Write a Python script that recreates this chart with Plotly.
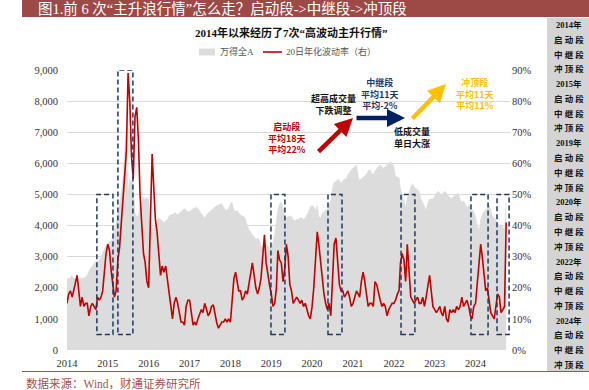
import plotly.graph_objects as go

W, H = 589, 390

# ---------------- data ----------------
years = list(range(2014, 2025))
tick_labels = [str(y) for y in years]

# 万得全A index, semi-monthly readings (1st / 16th of each month)
idx_2014 = [2300, 2280, 2350, 2400, 2320, 2300, 2280, 2300, 2320, 2300, 2320, 2350,
            2400, 2550, 2650, 2700, 2800, 2850, 2850, 2900, 3000, 3150, 3250, 3350]
idx_2015 = [3450, 3500, 3500, 3650, 3850, 4100, 4400, 4800, 5000, 5600, 6600, 7200,
            5100, 5500, 5400, 5400, 4400, 4300, 4300, 4700, 4800, 4900, 4850, 4900]
idx_2016 = [4850, 4050, 3900, 3900, 4150, 4200, 4250, 4200, 4150, 4100, 4150, 4200,
            4300, 4350, 4350, 4400, 4400, 4350, 4400, 4450, 4500, 4550, 4500, 4450]
idx_2017 = [4450, 4500, 4550, 4550, 4600, 4550, 4450, 4350, 4300, 4250, 4350, 4400,
            4450, 4500, 4550, 4600, 4650, 4650, 4700, 4700, 4600, 4500, 4500, 4550]
idx_2018 = [4700, 4750, 4500, 4450, 4500, 4400, 4350, 4300, 4300, 4200, 4000, 3850,
            3800, 3700, 3650, 3550, 3600, 3550, 3300, 3350, 3450, 3400, 3350, 3300]
idx_2019 = [3300, 3450, 3750, 4200, 4500, 4700, 4750, 4600, 4200, 4250, 4300, 4300,
            4300, 4200, 4150, 4200, 4200, 4250, 4250, 4200, 4250, 4350, 4450, 4600]
idx_2020 = [4650, 4600, 4500, 4650, 4300, 4250, 4400, 4450, 4500, 4550, 4650, 4800,
            5200, 5400, 5400, 5500, 5450, 5350, 5450, 5500, 5500, 5650, 5700, 5800]
idx_2021 = [5850, 5900, 5950, 5600, 5450, 5500, 5550, 5600, 5650, 5750, 5800, 5700,
            5650, 5750, 5850, 5900, 5950, 5900, 5850, 5900, 5950, 6000, 6050, 6000]
idx_2022 = [5900, 5600, 5550, 5550, 5200, 5000, 4750, 4600, 4900, 5000, 5250, 5350,
            5250, 5200, 5150, 5100, 4850, 4750, 4600, 4500, 4750, 4850, 4850, 4850]
idx_2023 = [4950, 5050, 5100, 5050, 5000, 5050, 5100, 5050, 4950, 4900, 4850, 4950,
            4950, 5000, 5050, 4850, 4750, 4800, 4700, 4600, 4650, 4600, 4500, 4450]
idx_2024 = [4300, 4000, 3850, 4200, 4350, 4450, 4500, 4600, 4650, 4500, 4300, 4250,
            4150, 4100, 4000, 4050, 3950, 3900, 4750]

# 20日年化波动率 (%), semi-monthly readings
vol_2014 = [15, 18, 19, 17, 19, 21, 24, 19, 14, 17, 14, 15, 15, 11, 14, 15, 14, 13, 17, 16, 17, 19, 25, 31]
vol_2015 = [34, 32, 25, 20, 17, 19, 29, 33, 40, 50, 55, 64, 89, 80, 62, 55, 75, 78, 68, 50, 40, 31, 28, 22]
vol_2016 = [20, 45, 63, 52, 42, 38, 29, 24, 27, 25, 27, 23, 18, 14, 10, 15, 17, 15, 12, 9, 9, 8, 14, 16]
vol_2017 = [16, 12, 8, 9, 8, 10, 12, 13, 12, 15, 13, 11, 12, 14, 14.5, 11, 8.7, 7, 8, 9, 9, 10, 9, 10]
vol_2018 = [9, 15, 23, 25, 22, 19, 19, 16, 17, 19, 18, 21, 24, 28, 24, 20, 18, 20, 23, 30, 37, 28, 24, 21]
vol_2019 = [18, 14, 15, 20, 32, 29, 28, 22, 26, 34, 30, 21, 19, 15, 16, 17, 16, 15, 16, 14, 15, 13, 11, 10]
vol_2020 = [14, 20, 28, 38, 34, 28, 23, 18, 15, 13, 15, 11, 22, 34, 36, 28, 21, 19, 19, 17, 18, 19, 17, 14]
vol_2021 = [15, 17, 19, 18, 17, 22, 25, 22, 18, 14, 15, 15, 14, 22, 21, 18, 16, 14, 15, 14, 11, 13, 14, 15]
vol_2022 = [15, 16, 18, 19, 28, 31, 29, 22, 34, 25, 17, 16, 15, 16, 17, 15, 15, 17, 14, 17, 20, 24, 19, 14]
vol_2023 = [13, 12, 13, 14, 12, 11, 14, 10, 9, 13, 12, 13, 12, 14, 13, 14, 17, 14, 15, 16, 14, 11, 10, 14]
vol_2024 = [15, 22, 30, 34, 30, 24, 19, 20, 15, 12, 11, 10, 14, 18, 17, 12, 13, 14, 41]

# highlighted rally windows (dashed boxes)
box_start = ["2014-09-25", "2015-04-01", "2018-12-29", "2020-05-22", "2022-03-06", "2023-11-21", "2024-07-11"]
box_end = ["2015-02-16", "2015-08-13", "2019-05-03", "2020-09-24", "2022-07-08", "2024-04-22", "2024-10-27"]
box_top = [5000, 9000, 5000, 5000, 5000, 5000, 5000]
box_bottom = 500

panel_years = ["2014年", "2015年", "2019年", "2020年", "2022年", "2024年"]
panel_stages = ["启 动 段", "中 继 段", "冲 顶 段"]

idx_by_year = [idx_2014, idx_2015, idx_2016, idx_2017, idx_2018, idx_2019,
               idx_2020, idx_2021, idx_2022, idx_2023, idx_2024]
vol_by_year = [vol_2014, vol_2015, vol_2016, vol_2017, vol_2018, vol_2019,
               vol_2020, vol_2021, vol_2022, vol_2023, vol_2024]


def semimonth_dates(year, n):
    return [f"{year}-{k // 2 + 1:02d}-{(1 if k % 2 == 0 else 16):02d}" for k in range(n)]


idx_x, idx_y, vol_x, vol_y = [], [], [], []
for y, iv, vv in zip(years, idx_by_year, vol_by_year):
    idx_x += semimonth_dates(y, len(iv))
    idx_y += iv
    vol_x += semimonth_dates(y, len(vv))
    vol_y += vv

# ---------------- figure ----------------
SERIF = "Times New Roman, Liberation Serif, Noto Sans CJK SC"
CJK = "Noto Sans CJK SC, Microsoft YaHei, sans-serif"
NAME_IDX = "万得全A"
NAME_VOL = "20日年化波动率（右）"


def X(px):
    return px / W


def Y(py):
    return 1 - py / H


fig = go.Figure()
fig.add_trace(go.Scatter(
    x=idx_x, y=idx_y, name=NAME_IDX, mode="lines",
    fill="tozeroy", fillcolor="#dcdcdc", line=dict(color="#dcdcdc", width=0.5),
    hoverinfo="skip", showlegend=False))
fig.add_trace(go.Scatter(
    x=vol_x, y=vol_y, name=NAME_VOL, mode="lines", yaxis="y2",
    line=dict(color="#c00000", width=1.6), showlegend=False))

shapes = []
for s, e, t in zip(box_start, box_end, box_top):
    shapes.append(dict(type="rect", xref="x", yref="y", x0=s, x1=e, y0=box_bottom, y1=t,
                       line=dict(color="#1f3864", width=1.5, dash="5px,3px"),
                       fillcolor="rgba(0,0,0,0)", layer="above"))
# banner, side panel, bottom rule
shapes.append(dict(type="rect", xref="paper", yref="paper", x0=X(22), x1=1, y0=Y(17), y1=1,
                   line=dict(width=0), fillcolor="#9d4a47", layer="below"))
shapes.append(dict(type="rect", xref="paper", yref="paper", x0=X(547), x1=1, y0=Y(371), y1=Y(18),
                   line=dict(width=0), fillcolor="#d4d4d4", layer="below"))
shapes.append(dict(type="line", xref="paper", yref="paper", x0=X(22), x1=1, y0=Y(371.5), y1=Y(371.5),
                   line=dict(color="#a5504d", width=1)))
# legend keys
shapes.append(dict(type="rect", xref="paper", yref="paper", x0=X(199), x1=X(215), y0=Y(55.5), y1=Y(48.5),
                   line=dict(width=0), fillcolor="#dcdcdc"))
shapes.append(dict(type="line", xref="paper", yref="paper", x0=X(263), x1=X(282), y0=Y(52), y1=Y(52),
                   line=dict(color="#c00000", width=1.6)))

ann = []
ann.append(dict(text="图1.前 6 次“主升浪行情”怎么走？启动段->中继段->冲顶段", xref="paper", yref="paper",
                x=X(36), y=Y(9), xanchor="left", yanchor="middle", showarrow=False,
                font=dict(family=SERIF, size=14.5, color="white")))
ann.append(dict(text="<b>2014年以来经历了7次“高波动主升行情”</b>", xref="paper", yref="paper",
                x=X(291), y=Y(32), xanchor="center", yanchor="middle", showarrow=False,
                font=dict(family=SERIF, size=11, color="#111111")))
ann.append(dict(text="数据来源：Wind，财通证券研究所", xref="paper", yref="paper",
                x=X(24), y=Y(383.5), xanchor="left", yanchor="middle", showarrow=False,
                font=dict(family=SERIF, size=11.5, color="#a5504d")))
ann.append(dict(text=NAME_IDX, xref="paper", yref="paper", x=X(218), y=Y(52),
                xanchor="left", yanchor="middle", showarrow=False,
                font=dict(family=SERIF, size=9, color="#555555")))
ann.append(dict(text=NAME_VOL, xref="paper", yref="paper", x=X(284), y=Y(52),
                xanchor="left", yanchor="middle", showarrow=False,
                font=dict(family=SERIF, size=9, color="#555555")))

panel_items = []
for yl in panel_years:
    panel_items.append(yl)
    panel_items += panel_stages
n_items = len(panel_items)
row_gap = (365 - 25) / (n_items - 1)
for i, t in enumerate(panel_items):
    ann.append(dict(text=f"<b>{t}</b>", xref="paper", yref="paper", x=X(569), y=Y(25 + i * row_gap),
                    xanchor="center", yanchor="middle", showarrow=False,
                    font=dict(family=SERIF, size=8.5, color="#111111")))


def text_block(lines, cx, cy, color):
    ann.append(dict(text="<b>" + "<br>".join(lines) + "</b>", xref="paper", yref="paper",
                    x=X(cx), y=Y(cy), xanchor="center", yanchor="middle", showarrow=False,
                    align="center", font=dict(family=CJK, size=9, color=color)))


text_block(["启动段", "平均18天", "平均22%"], 287, 138, "#c00000")
text_block(["超高成交量", "下跌调整"], 333, 104.5, "#111111")
text_block(["中继段", "平均11天", "平均-2%"], 380, 94, "#1f3864")
text_block(["低成交量", "单日大涨"], 412, 137.5, "#111111")
text_block(["冲顶段", "平均11天", "平均11%"], 475, 94, "#ffc000")


def arrow(hx, hy, tx, ty, color):
    ann.append(dict(text="", xref="paper", yref="paper", x=X(hx), y=Y(hy),
                    ax=tx - hx, ay=ty - hy, showarrow=True, arrowhead=2, arrowsize=0.8,
                    arrowwidth=4.5, arrowcolor=color, standoff=0, startstandoff=0))


arrow(353, 118, 317, 153, "#c00000")
arrow(405, 118, 355, 118, "#002060")
arrow(446, 84, 411, 120, "#ffc000")

fig.update_layout(
    width=W, height=H, margin=dict(l=0, r=0, t=0, b=0, pad=0, autoexpand=False),
    paper_bgcolor="white", plot_bgcolor="white",
    shapes=shapes, annotations=ann,
    showlegend=False,
    xaxis=dict(type="date", domain=[X(67), X(510)], range=["2014-01-01", "2024-11-04"],
               tick0="2014-01-01", dtick="M12", tickformat="%Y", showgrid=False, zeroline=False,
               showline=False, ticks="", ticklabelstandoff=5, automargin=False,
               tickfont=dict(family=SERIF, size=10.5, color="#333333")),
    yaxis=dict(domain=[Y(350), Y(70)], range=[0, 9000], dtick=1000, tickformat=",d",
               showgrid=True, gridcolor="#d9d9d9", gridwidth=1, zeroline=False, ticks="",
               ticklabelstandoff=8, automargin=False,
               tickfont=dict(family=SERIF, size=10.5, color="#333333")),
    yaxis2=dict(overlaying="y", side="right", anchor="x", range=[0, 90], dtick=10,
                ticksuffix="%", showgrid=False, zeroline=False, ticks="", ticklabelstandoff=1,
                automargin=False, tickfont=dict(family=SERIF, size=10.5, color="#333333")),
)

fig.write_html("out.html", config={"displayModeBar": False},
               post_script="document.body.style.margin='0';document.body.style.overflow='hidden';")
